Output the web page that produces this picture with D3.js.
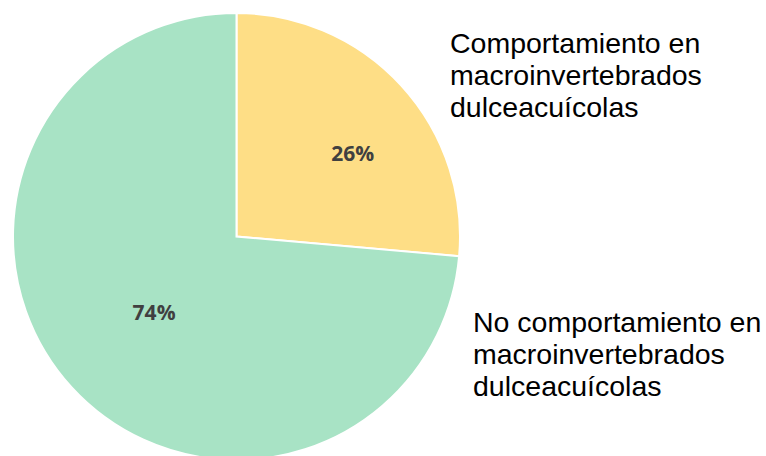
<!DOCTYPE html>
<html>
<head>
<meta charset="utf-8">
<script src="https://cdn.jsdelivr.net/npm/d3@7"></script>
<style>
  html, body { margin: 0; padding: 0; background: #fff; }
  svg { display: block; }
</style>
</head>
<body>
<div id="chart"></div>
<script>
// Categories and their share of the total (percent)
var categories = [
  "Comportamiento en macroinvertebrados dulceacuícolas",
  "No comportamiento en macroinvertebrados dulceacuícolas"
];
var values = [26.4, 73.6];
var valueLabels = ["26%", "74%"];
// legend-style labels, split into lines
var legendLines = [
  ["Comportamiento en", "macroinvertebrados", "dulceacuícolas"],
  ["No comportamiento en", "macroinvertebrados", "dulceacuícolas"]
];

var width = 766, height = 456;
var cx = 236.5, cy = 236.5, radius = 223.5;

var color = d3.scaleOrdinal()
  .domain(categories)
  .range(["#FEDE86", "#A8E3C5"]);

var svg = d3.select("#chart").append("svg")
  .attr("width", width)
  .attr("height", height);

var g = svg.append("g")
  .attr("transform", "translate(" + cx + "," + cy + ")");

var pie = d3.pie().sort(null).value(function(d) { return d.value; });
var data = categories.map(function(c, i) { return {name: c, value: values[i], label: valueLabels[i]}; });
var arcs = pie(data);

var arc = d3.arc().innerRadius(0).outerRadius(radius);

g.selectAll("path.slice")
  .data(arcs)
  .enter()
  .append("path")
  .attr("class", "slice")
  .attr("d", arc)
  .attr("fill", function(d) { return color(d.data.name); })
  .attr("stroke", "#fff")
  .attr("stroke-width", 2);

// percent labels: placed on a ring inside each slice
var labelRing = [0.64, 0.5];
var labelShift = [0.12, 0]; // radians, nudge along the ring
g.selectAll("text.pct")
  .data(arcs)
  .enter()
  .append("text")
  .attr("class", "pct")
  .attr("transform", function(d, i) {
    var a = (d.startAngle + d.endAngle) / 2 + labelShift[i];
    var r = radius * labelRing[i];
    return "translate(" + (r * Math.sin(a)) + "," + (-r * Math.cos(a)) + ")";
  })
  .attr("text-anchor", "middle")
  .attr("dy", "0.36em")
  .attr("font-family", "'Open Sans', 'Noto Sans', sans-serif")
  .attr("font-weight", "bold")
  .attr("font-size", 21)
  .attr("fill", "#404040")
  .text(function(d) { return d.data.label; });

// category labels on the right
var labelPos = [[450, 53], [473, 332]];
var lab = svg.selectAll("text.cat")
  .data(legendLines)
  .enter()
  .append("text")
  .attr("class", "cat")
  .attr("x", function(d, i) { return labelPos[i][0]; })
  .attr("y", function(d, i) { return labelPos[i][1]; })
  .attr("font-family", "'Liberation Sans', Arial, sans-serif")
  .attr("font-size", 28.5)
  .attr("fill", "#000");

lab.selectAll("tspan")
  .data(function(d, i) { return d.map(function(t) { return {t: t, x: labelPos[i][0]}; }); })
  .enter()
  .append("tspan")
  .attr("x", function(d) { return d.x; })
  .attr("dy", function(d, j) { return j === 0 ? 0 : 32; })
  .text(function(d) { return d.t; });
</script>
</body>
</html>
